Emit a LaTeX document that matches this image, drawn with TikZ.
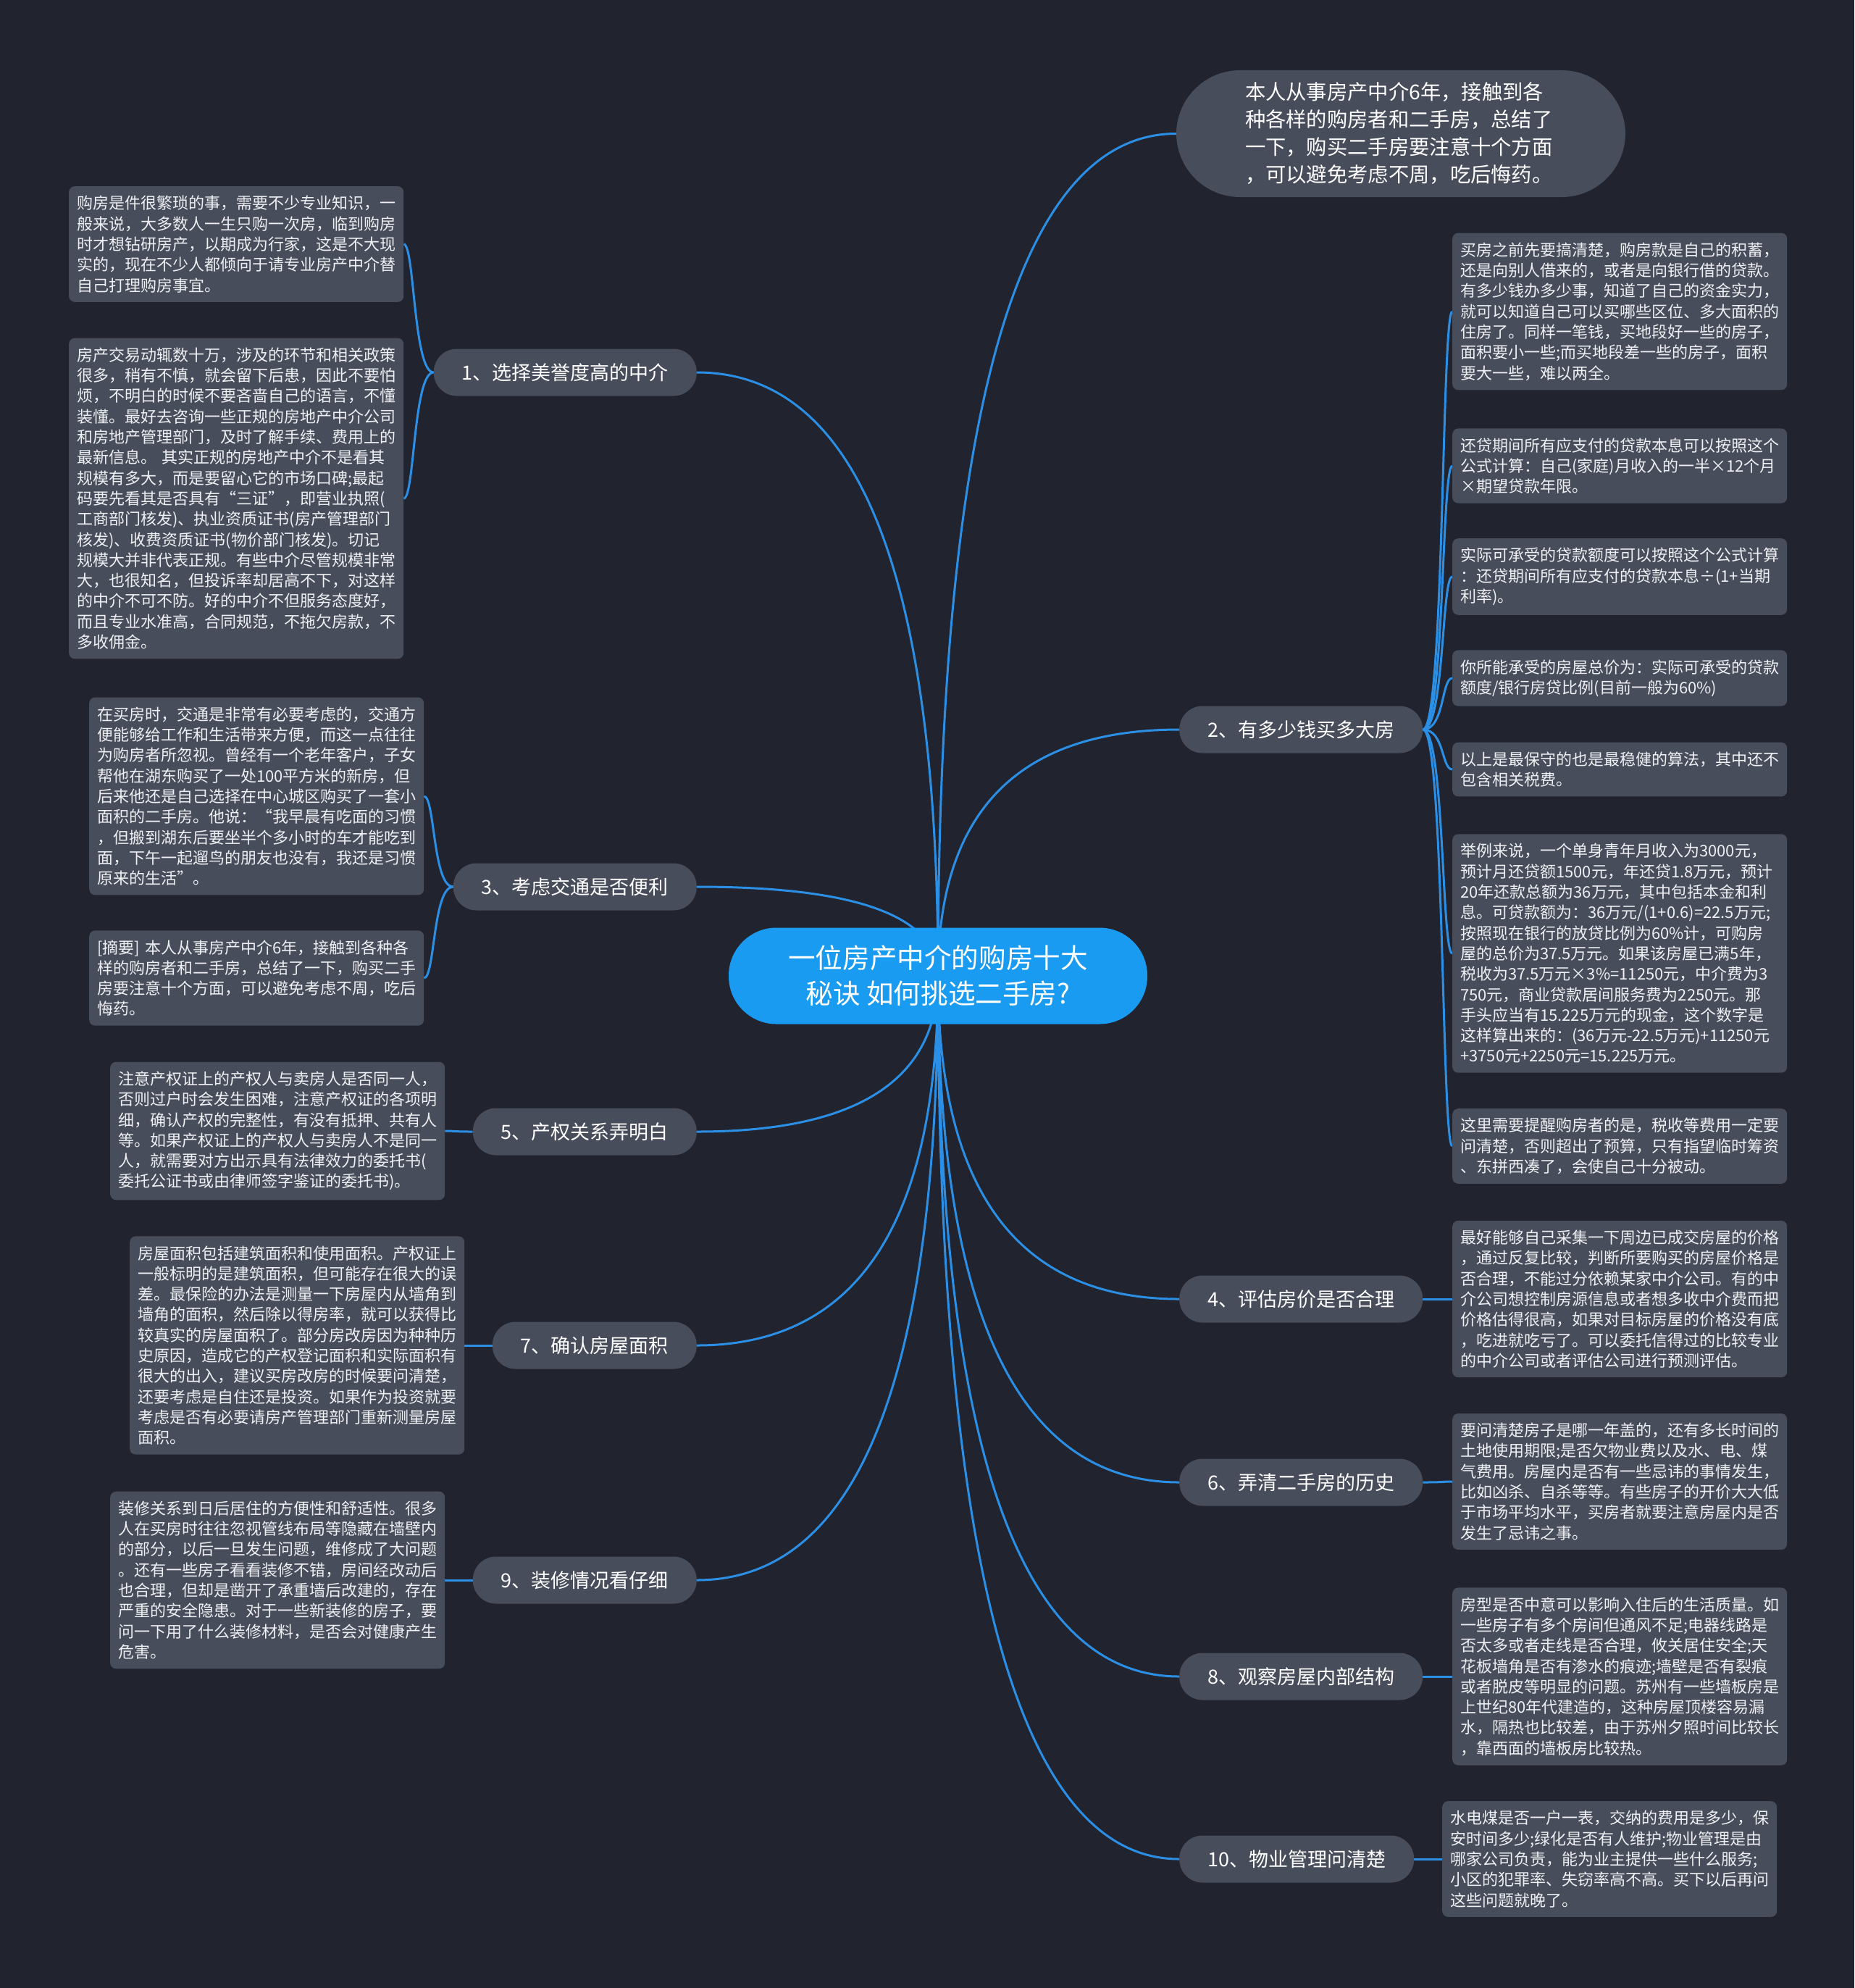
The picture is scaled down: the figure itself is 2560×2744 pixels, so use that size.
\documentclass[tikz,border=0pt]{standalone}
\usepackage{fontspec}
\setmainfont{Noto Sans CJK SC}
\usetikzlibrary{calc}
\pgfdeclarelayer{background}
\pgfsetlayers{background,main}
\definecolor{bgc}{HTML}{21242E}
\definecolor{boxc}{HTML}{484D5B}
\definecolor{linec}{HTML}{2B8FE6}
\definecolor{mainc}{HTML}{1A9BF2}
\definecolor{txtc}{HTML}{EEF0F3}
\begin{document}
\begin{tikzpicture}[x=1pt,y=-1pt,
  leaf/.style={fill=boxc, rounded corners=8pt, text=txtc, text width=440pt, align=left, inner xsep=11pt, inner ysep=13pt, font=\fontsize{22}{28.3}\selectfont},
  branch/.style={fill=boxc, rounded corners=32pt, text=white, minimum height=65pt, inner xsep=39pt, inner ysep=0pt, font=\fontsize{27}{32}\selectfont},
  conn/.style={draw=linec, line width=3pt},
  mm/.style={to path={.. controls ($(\tikztostart)!0.667!(\tikztostart |- \tikztotarget)$) and ($(\tikztotarget)!0.667!(\tikztostart |- \tikztotarget)$) .. (\tikztotarget)}},
]
\useasboundingbox (0,0) rectangle (2560,2744);
\coordinate (c) at (1295,1347);

% center
\node[fill=mainc, rounded corners=66pt, minimum width=578pt, minimum height=133pt, text=white, align=center, font=\fontsize{37.6}{49}\selectfont] (center) at (1295,1347) {一位房产中介的购房十大\\秘诀 如何挑选二手房?};

% intro
\node[fill=boxc, rounded corners=88pt, text=white, text width=430pt, align=left, inner xsep=95pt, inner ysep=17pt, font=\fontsize{28.3}{38}\selectfont] (intro) at (1934,184.5) {本人从事房产中介6年，接触到各\\种各样的购房者和二手房，总结了\\一下，购买二手房要注意十个方面\\，可以避免考虑不周，吃后悔药。};

% branches left
\node[branch, anchor=east] (b1) at (962,514) {1、选择美誉度高的中介};
\node[branch, anchor=east] (b3) at (962,1224) {3、考虑交通是否便利};
\node[branch, anchor=east] (b5) at (962,1562) {5、产权关系弄明白};
\node[branch, anchor=east] (b7) at (962,1857) {7、确认房屋面积};
\node[branch, anchor=east] (b9) at (962,2181) {9、装修情况看仔细};
% branches right
\node[branch, anchor=west] (b2) at (1628,1007) {2、有多少钱买多大房};
\node[branch, anchor=west] (b4) at (1628,1793) {4、评估房价是否合理};
\node[branch, anchor=west] (b6) at (1628,2046) {6、弄清二手房的历史};
\node[branch, anchor=west] (b8) at (1628,2314) {8、观察房屋内部结构};
\node[branch, anchor=west] (b10) at (1628,2566) {10、物业管理问清楚};

% left leaves
\node[leaf, anchor=west] (L1a) at (95,337) {购房是件很繁琐的事，需要不少专业知识，一\\般来说，大多数人一生只购一次房，临到购房\\时才想钻研房产，以期成为行家，这是不大现\\实的，现在不少人都倾向于请专业房产中介替\\自己打理购房事宜。};
\node[leaf, anchor=west] (L1b) at (95,688) {房产交易动辄数十万，涉及的环节和相关政策\\很多，稍有不慎，就会留下后患，因此不要怕\\烦，不明白的时候不要吝啬自己的语言，不懂\\装懂。最好去咨询一些正规的房地产中介公司\\和房地产管理部门，及时了解手续、费用上的\\最新信息。 其实正规的房地产中介不是看其\\规模有多大，而是要留心它的市场口碑;最起\\码要先看其是否具有“三证”，即营业执照(\\工商部门核发)、执业资质证书(房产管理部门\\核发)、收费资质证书(物价部门核发)。切记\\规模大并非代表正规。有些中介尽管规模非常\\大，也很知名，但投诉率却居高不下，对这样\\的中介不可不防。好的中介不但服务态度好，\\而且专业水准高，合同规范，不拖欠房款，不\\多收佣金。};
\node[leaf, anchor=west] (L3a) at (123,1099) {在买房时，交通是非常有必要考虑的，交通方\\便能够给工作和生活带来方便，而这一点往往\\为购房者所忽视。曾经有一个老年客户，子女\\帮他在湖东购买了一处100平方米的新房，但\\后来他还是自己选择在中心城区购买了一套小\\面积的二手房。他说：“我早晨有吃面的习惯\\，但搬到湖东后要坐半个多小时的车才能吃到\\面，下午一起遛鸟的朋友也没有，我还是习惯\\原来的生活”。};
\node[leaf, anchor=west] (L3b) at (123,1350) {[摘要] 本人从事房产中介6年，接触到各种各\\样的购房者和二手房，总结了一下，购买二手\\房要注意十个方面，可以避免考虑不周，吃后\\悔药。};
\node[leaf, anchor=west] (L5) at (152,1561) {注意产权证上的产权人与卖房人是否同一人，\\否则过户时会发生困难，注意产权证的各项明\\细，确认产权的完整性，有没有抵押、共有人\\等。如果产权证上的产权人与卖房人不是同一\\人，就需要对方出示具有法律效力的委托书(\\委托公证书或由律师签字鉴证的委托书)。};
\node[leaf, anchor=west] (L7) at (179,1857) {房屋面积包括建筑面积和使用面积。产权证上\\一般标明的是建筑面积，但可能存在很大的误\\差。最保险的办法是测量一下房屋内从墙角到\\墙角的面积，然后除以得房率，就可以获得比\\较真实的房屋面积了。部分房改房因为种种历\\史原因，造成它的产权登记面积和实际面积有\\很大的出入，建议买房改房的时候要问清楚，\\还要考虑是自住还是投资。如果作为投资就要\\考虑是否有必要请房产管理部门重新测量房屋\\面积。};
\node[leaf, anchor=west] (L9) at (152,2181) {装修关系到日后居住的方便性和舒适性。很多\\人在买房时往往忽视管线布局等隐藏在墙壁内\\的部分，以后一旦发生问题，维修成了大问题\\。还有一些房子看看装修不错，房间经改动后\\也合理，但却是凿开了承重墙后改建的，存在\\严重的安全隐患。对于一些新装修的房子，要\\问一下用了什么装修材料，是否会对健康产生\\危害。};

% right leaves
\node[leaf, anchor=west] (R2a) at (2005,430) {买房之前先要搞清楚，购房款是自己的积蓄，\\还是向别人借来的，或者是向银行借的贷款。\\有多少钱办多少事，知道了自己的资金实力，\\就可以知道自己可以买哪些区位、多大面积的\\住房了。同样一笔钱，买地段好一些的房子，\\面积要小一些;而买地段差一些的房子，面积\\要大一些，难以两全。};
\node[leaf, anchor=west] (R2b) at (2005,643) {还贷期间所有应支付的贷款本息可以按照这个\\公式计算：自己(家庭)月收入的一半×12个月\\×期望贷款年限。};
\node[leaf, anchor=west] (R2c) at (2005,796) {实际可承受的贷款额度可以按照这个公式计算\\：还贷期间所有应支付的贷款本息÷(1+当期\\利率)。};
\node[leaf, anchor=west] (R2d) at (2005,936) {你所能承受的房屋总价为：实际可承受的贷款\\额度/银行房贷比例(目前一般为60\%)};
\node[leaf, anchor=west] (R2e) at (2005,1062) {以上是最保守的也是最稳健的算法，其中还不\\包含相关税费。};
\node[leaf, anchor=west] (R2f) at (2005,1316) {举例来说，一个单身青年月收入为3000元，\\预计月还贷额1500元，年还贷1.8万元，预计\\20年还款总额为36万元，其中包括本金和利\\息。可贷款额为：36万元/(1+0.6)=22.5万元;\\按照现在银行的放贷比例为60\%计，可购房\\屋的总价为37.5万元。如果该房屋已满5年，\\税收为37.5万元×3\%=11250元，中介费为3\\750元，商业贷款居间服务费为2250元。那\\手头应当有15.225万元的现金，这个数字是\\这样算出来的：(36万元-22.5万元)+11250元\\+3750元+2250元=15.225万元。};
\node[leaf, anchor=west] (R2g) at (2005,1582) {这里需要提醒购房者的是，税收等费用一定要\\问清楚，否则超出了预算，只有指望临时筹资\\、东拼西凑了，会使自己十分被动。};
\node[leaf, anchor=west] (R4) at (2005,1793) {最好能够自己采集一下周边已成交房屋的价格\\，通过反复比较，判断所要购买的房屋价格是\\否合理，不能过分依赖某家中介公司。有的中\\介公司想控制房源信息或者想多收中介费而把\\价格估得很高，如果对目标房屋的价格没有底\\，吃进就吃亏了。可以委托信得过的比较专业\\的中介公司或者评估公司进行预测评估。};
\node[leaf, anchor=west] (R6) at (2005,2045) {要问清楚房子是哪一年盖的，还有多长时间的\\土地使用期限;是否欠物业费以及水、电、煤\\气费用。房屋内是否有一些忌讳的事情发生，\\比如凶杀、自杀等等。有些房子的开价大大低\\于市场平均水平，买房者就要注意房屋内是否\\发生了忌讳之事。};
\node[leaf, anchor=west] (R8) at (2005,2314) {房型是否中意可以影响入住后的生活质量。如\\一些房子有多个房间但通风不足;电器线路是\\否太多或者走线是否合理，攸关居住安全;天\\花板墙角是否有渗水的痕迹;墙壁是否有裂痕\\或者脱皮等明显的问题。苏州有一些墙板房是\\上世纪80年代建造的，这种房屋顶楼容易漏\\水，隔热也比较差，由于苏州夕照时间比较长\\，靠西面的墙板房比较热。};
\node[leaf, anchor=west] (R10) at (1991,2566) {水电煤是否一户一表，交纳的费用是多少，保\\安时间多少;绿化是否有人维护;物业管理是由\\哪家公司负责，能为业主提供一些什么服务;\\小区的犯罪率、失窃率高不高。买下以后再问\\这些问题就晚了。};

\begin{pgfonlayer}{background}
\fill[bgc] (0,0) rectangle (2560,2744);
% center connectors
\path[conn] (c) to[mm] (intro.west)
  (c) to[mm] (b1.east) (c) to[mm] (b3.east) (c) to[mm] (b5.east)
  (c) to[mm] (b7.east) (c) to[mm] (b9.east)
  (c) to[mm] (b2.west) (c) to[mm] (b4.west) (c) to[mm] (b6.west)
  (c) to[mm] (b8.west) (c) to[mm] (b10.west);
% left leaf connectors
\foreach \b/\l in {b1/L1a, b1/L1b, b3/L3a, b3/L3b, b5/L5, b7/L7, b9/L9}
  \path[conn] (\b.west) .. controls +(-28,0) and +(15,0) .. (\l.east);
% right leaf connectors
\foreach \b/\l in {b2/R2a, b2/R2b, b2/R2c, b2/R2d, b2/R2e, b2/R2f, b2/R2g, b4/R4, b6/R6, b8/R8, b10/R10}
  \path[conn] (\b.east) .. controls +(30,0) and +(-15,0) .. (\l.west);
\end{pgfonlayer}
\end{tikzpicture}
\end{document}
